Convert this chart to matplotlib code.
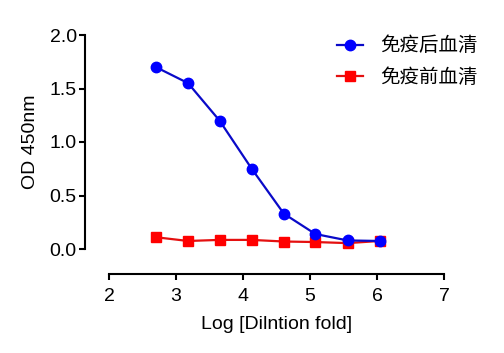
import numpy as np
import matplotlib
matplotlib.use("Agg")
import matplotlib.pyplot as plt

plt.rcParams['font.family'] = ['Liberation Sans', 'Noto Sans CJK SC', 'DejaVu Sans']

log_dilution = [2.70, 3.18, 3.65, 4.13, 4.61, 5.08, 5.56, 6.04]
post_immune = [1.70, 1.55, 1.20, 0.75, 0.33, 0.14, 0.08, 0.075]
pre_immune = [0.11, 0.075, 0.085, 0.085, 0.07, 0.065, 0.055, 0.075]
series_labels = ["免疫后血清", "免疫前血清"]
x_ticks = [2, 3, 4, 5, 6, 7]
y_ticks = [0.0, 0.5, 1.0, 1.5, 2.0]

fig = plt.figure(figsize=(5.04, 3.53), dpi=100)
ax = fig.add_axes([109/504, 1 - 249/353, 335/504, 214/353])

ax.plot(log_dilution, post_immune, color='#0a0ac8', lw=1.6, marker='o',
        markersize=7.5, markerfacecolor='#0000ff', markeredgecolor='#0000ff',
        label=series_labels[0], clip_on=False, zorder=3)
ax.plot(log_dilution, pre_immune, color='#e41010', lw=1.6, marker='s',
        markersize=6.5, markerfacecolor='#ff0000', markeredgecolor='#ff0000',
        label=series_labels[1], clip_on=False, zorder=2)

ax.set_xlim(2, 7)
ax.set_ylim(0, 2)
ax.set_xticks(x_ticks)
ax.set_yticks(y_ticks)
ax.set_yticklabels([f"{v:.1f}" for v in y_ticks])

for s in ['top', 'right']:
    ax.spines[s].set_visible(False)
ax.spines['left'].set_position(('outward', 17.3))
ax.spines['bottom'].set_position(('outward', 18))
for s in ['left', 'bottom']:
    ax.spines[s].set_linewidth(1.5)
ax.tick_params(width=1.5, length=4.5, labelsize=14, direction='out')
ax.tick_params(axis='y', pad=1.5)
ax.tick_params(axis='x', pad=5.5)

ax.set_xlabel("Log [Dilntion fold]", fontsize=14, labelpad=8)
ax.set_ylabel("OD 450nm", fontsize=14, labelpad=7.5)

leg = ax.legend(loc='upper left', bbox_to_anchor=(0.628, 1.08), frameon=False,
                handlelength=1.35, handletextpad=0.9, labelspacing=0.55,
                prop={'family': ['Noto Sans CJK SC'], 'size': 14})

fig.savefig("out.png", dpi=100)
